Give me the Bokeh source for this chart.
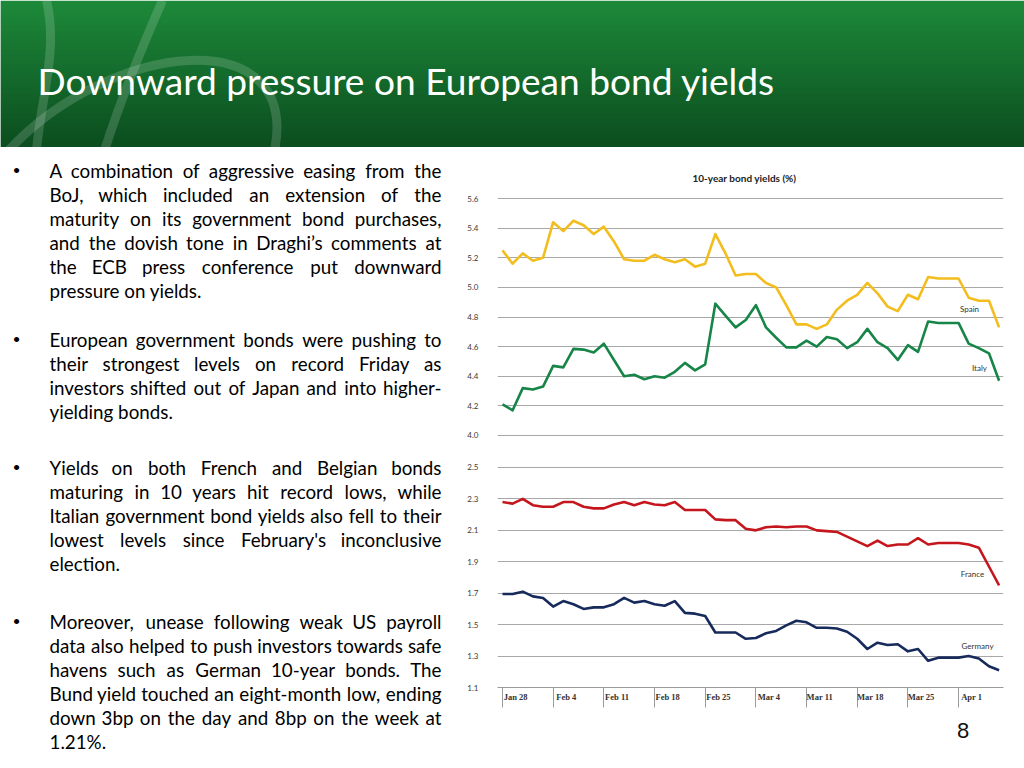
import numpy as np
from bokeh.plotting import figure
from bokeh.layouts import row, column
from bokeh.models import Range1d, FixedTicker, CustomJSTickFormatter, PrintfTickFormatter, Label
from bokeh.core.properties import value
from bokeh.embed import file_html
from bokeh.resources import INLINE

# ---------------- data ----------------
week_labels = ["Jan 28", "Feb 4", "Feb 11", "Feb 18", "Feb 25",
               "Mar 4", "Mar 11", "Mar 18", "Mar 25", "Apr 1"]
days = list(range(50))  # trading days from Jan 28

spain = [5.25, 5.16, 5.23, 5.18, 5.20, 5.44, 5.38, 5.45, 5.42, 5.36,
         5.41, 5.31, 5.19, 5.18, 5.18, 5.22, 5.19, 5.17, 5.19, 5.14,
         5.16, 5.36, 5.23, 5.08, 5.09, 5.09, 5.03, 5.00, 4.88, 4.75,
         4.75, 4.72, 4.75, 4.85, 4.91, 4.95, 5.03, 4.96, 4.87, 4.84,
         4.95, 4.92, 5.07, 5.06, 5.06, 5.06, 4.93, 4.91, 4.91, 4.73]
italy = [4.21, 4.17, 4.32, 4.31, 4.33, 4.47, 4.46, 4.585, 4.58, 4.56,
         4.62, 4.51, 4.40, 4.41, 4.38, 4.40, 4.39, 4.43, 4.49, 4.44,
         4.48, 4.89, 4.81, 4.73, 4.78, 4.88, 4.73, 4.66, 4.595, 4.595,
         4.64, 4.60, 4.665, 4.65, 4.59, 4.63, 4.72, 4.63, 4.59, 4.51,
         4.61, 4.565, 4.77, 4.76, 4.76, 4.76, 4.62, 4.59, 4.555, 4.37]
france = [2.28, 2.27, 2.30, 2.26, 2.25, 2.25, 2.28, 2.28, 2.25, 2.24,
          2.24, 2.265, 2.28, 2.26, 2.28, 2.265, 2.26, 2.28, 2.23, 2.23,
          2.23, 2.17, 2.165, 2.165, 2.11, 2.10, 2.12, 2.125, 2.12, 2.125,
          2.125, 2.10, 2.095, 2.09, 2.06, 2.03, 2.00, 2.035, 2.00, 2.01,
          2.01, 2.05, 2.01, 2.02, 2.02, 2.02, 2.01, 1.99, 1.87, 1.75]
germany = [1.695, 1.695, 1.71, 1.68, 1.67, 1.615, 1.65, 1.63, 1.60, 1.61,
           1.61, 1.63, 1.67, 1.64, 1.65, 1.63, 1.62, 1.65, 1.575, 1.57,
           1.555, 1.45, 1.45, 1.45, 1.41, 1.415, 1.445, 1.46, 1.495, 1.525,
           1.515, 1.48, 1.48, 1.475, 1.455, 1.41, 1.345, 1.385, 1.37, 1.375,
           1.33, 1.345, 1.27, 1.29, 1.29, 1.29, 1.30, 1.285, 1.235, 1.21]

top_ticks = [4.0, 4.2, 4.4, 4.6, 4.8, 5.0, 5.2, 5.4, 5.6]
bottom_ticks = [1.1, 1.3, 1.5, 1.7, 1.9, 2.1, 2.3, 2.5]

title_text = "Downward pressure on European bond yields"
chart_title = "10-year bond yields (%)"
series_names = ["Spain", "Italy", "France", "Germany"]
page_number = "8"

paragraphs = [
    ["A combination of aggressive easing from the",
     "BoJ, which included an extension of the",
     "maturity on its government bond purchases,",
     "and the dovish tone in Draghi\u2019s comments at",
     "the ECB press conference put downward",
     "pressure on yields."],
    ["European government bonds were pushing to",
     "their strongest levels on record Friday as",
     "investors shifted out of Japan and into higher-",
     "yielding bonds."],
    ["Yields on both French and Belgian bonds",
     "maturing in 10 years hit record lows, while",
     "Italian government bond yields also fell to their",
     "lowest levels since February's inconclusive",
     "election."],
    ["Moreover, unease following weak US payroll",
     "data also helped to push investors towards safe",
     "havens such as German 10-year bonds. The",
     "Bund yield touched an eight-month low, ending",
     "down 3bp on the day and 8bp on the week at",
     "1.21%."],
]
para_first_middle = [170, 339, 467, 620.5]
LINE_H = 24.0

# ---------------- styles ----------------
GREEN_TOP = (30, 138, 58)
GREEN_BOT = (12, 78, 32)
C_SPAIN, C_ITALY, C_FRANCE, C_GERMANY = "#f2bd1d", "#178548", "#c4161c", "#172a5c"
BODY_FONT = "Lato"
BODY_SIZE = 18.8
REF_SIZE = 19.8
TEXT_L, TEXT_R = 49, 441

# approximate Calibri advance widths (units / 2048), used to spread justified words
CW = {' ': 463, ',': 511, '-': 627, '.': 517, '\'': 451, '\u2019': 511, '%': 1470,
      'A': 1185, 'B': 1114, 'C': 1092, 'D': 1260, 'E': 1000, 'F': 941, 'G': 1292,
      'H': 1276, 'I': 516, 'J': 653, 'K': 1064, 'L': 861, 'M': 1751, 'N': 1322,
      'O': 1356, 'P': 1058, 'Q': 1378, 'R': 1112, 'S': 941, 'T': 998, 'U': 1314,
      'V': 1162, 'W': 1822, 'X': 1063, 'Y': 998, 'Z': 959,
      'a': 981, 'b': 1076, 'c': 866, 'd': 1076, 'e': 1019, 'f': 625, 'g': 964,
      'h': 1076, 'i': 470, 'j': 490, 'k': 931, 'l': 470, 'm': 1636, 'n': 1076,
      'o': 1080, 'p': 1076, 'q': 1076, 'r': 714, 's': 801, 't': 686, 'u': 1076,
      'v': 925, 'w': 1464, 'x': 887, 'y': 927, 'z': 809}
for d in "0123456789":
    CW[d] = 1038


def tw(s):
    return sum(CW.get(c, 1000) for c in s) / 2048.0 * REF_SIZE


def common(fig):
    fig.outline_line_color = None
    fig.background_fill_color = "white"
    fig.border_fill_color = "white"
    return fig


NOB = dict(min_border_left=0, min_border_right=0, min_border_top=0, min_border_bottom=0)

# ---------------- header ----------------
hdr = figure(width=1024, height=147, x_range=Range1d(0, 1024), y_range=Range1d(147, 0),
             output_backend="svg", toolbar_location=None,
             x_axis_location=None, y_axis_location=None, **NOB)
common(hdr)
hdr.grid.visible = False
rows_y = np.arange(0, 147)
cols = []
for yy in rows_y:
    t = yy / 146.0
    r = int(GREEN_TOP[0] + (GREEN_BOT[0] - GREEN_TOP[0]) * t)
    g = int(GREEN_TOP[1] + (GREEN_BOT[1] - GREEN_TOP[1]) * t)
    b = int(GREEN_TOP[2] + (GREEN_BOT[2] - GREEN_TOP[2]) * t)
    cols.append("#%02x%02x%02x" % (r, g, b))
hdr.quad(left=0, right=1024, top=rows_y, bottom=rows_y + 1.6, fill_color=cols, line_color=None)
# decorative swooshes
hdr.bezier(x0=[46, 162, 8], y0=[0, 0, 150], x1=[36, 104, 274], y1=[150, 150, 150],
           cx0=[58, 140, 110], cy0=[50, 50, 40], cx1=[40, 120, 300], cy1=[100, 100, 20],
           line_color="white", line_alpha=0.16, line_width=9)
hdr.text(x=[37], y=[80], text=[title_text], text_font=value(BODY_FONT),
         text_font_size="37.1px", text_color="white",
         text_align="left", text_baseline="middle")

# ---------------- bullet text ----------------
tf = figure(width=460, height=621, x_range=Range1d(0, 460), y_range=Range1d(768, 147),
            output_backend="svg", toolbar_location=None,
            x_axis_location=None, y_axis_location=None, **NOB)
common(tf)
tf.grid.visible = False

L_x, L_y, L_t = [], [], []
C_x, C_y, C_t = [], [], []
R_x, R_y, R_t = [], [], []
B_x, B_y = [], []
for pi, lines in enumerate(paragraphs):
    y0 = para_first_middle[pi]
    B_x.append(16)
    B_y.append(y0)
    for li, line in enumerate(lines):
        yb = y0 + li * LINE_H
        if li == len(lines) - 1:
            L_x.append(TEXT_L); L_y.append(yb); L_t.append(line)
            continue
        words = line.split(" ")
        wds = [tw(w) for w in words]
        gap = (TEXT_R - TEXT_L - sum(wds)) / (len(words) - 1)
        xc = TEXT_L
        for wi, w in enumerate(words):
            if wi == 0:
                L_x.append(TEXT_L); L_y.append(yb); L_t.append(w)
            elif wi == len(words) - 1:
                R_x.append(TEXT_R); R_y.append(yb); R_t.append(w)
            else:
                C_x.append(xc + wds[wi] / 2); C_y.append(yb); C_t.append(w)
            xc += wds[wi] + gap

for xs, ys, ts, al in [(L_x, L_y, L_t, "left"), (C_x, C_y, C_t, "center"), (R_x, R_y, R_t, "right")]:
    tf.text(x=xs, y=ys, text=ts, text_font=value(BODY_FONT), text_font_size="%.1fpx" % BODY_SIZE,
            text_color="#000000", text_align=al, text_baseline="middle")
tf.text(x=B_x, y=B_y, text=["\u2022"] * len(B_x), text_font=value("Liberation Sans"),
        text_font_size="19px", text_color="#000000", text_align="center", text_baseline="middle")

# ---------------- chart ----------------
XR = (-0.493, 49.434)


def style_y(fig, ticks):
    fig.yaxis.ticker = FixedTicker(ticks=ticks)
    fig.yaxis.formatter = PrintfTickFormatter(format="%.1f")
    fig.yaxis.axis_line_color = None
    fig.yaxis.major_tick_line_color = None
    fig.yaxis.minor_tick_line_color = None
    fig.yaxis.major_tick_out = 0
    fig.yaxis.major_tick_in = 0
    fig.yaxis.minor_tick_out = 0
    fig.yaxis.minor_tick_in = 0
    fig.yaxis.major_label_standoff = 19
    fig.yaxis.major_label_text_font = BODY_FONT
    fig.yaxis.major_label_text_font_size = "8px"
    fig.yaxis.major_label_text_color = "#3a3a3a"
    fig.ygrid.ticker = FixedTicker(ticks=ticks)
    fig.ygrid.grid_line_color = "#a8a8a8"
    fig.ygrid.grid_line_width = 1
    fig.xgrid.visible = False


pt = figure(width=564, height=304, x_range=Range1d(*XR), y_range=Range1d(3.9257, 5.823),
            output_backend="svg", toolbar_location=None, x_axis_location=None,
            min_border_left=37, min_border_right=21, min_border_top=18, min_border_bottom=5)
common(pt)
style_y(pt, top_ticks)
pt.line(days, spain, line_color=C_SPAIN, line_width=2.6, line_join="round")
pt.line(days, italy, line_color=C_ITALY, line_width=2.6, line_join="round")
pt.add_layout(Label(x=23.88, y=5.737, text=chart_title, text_font=BODY_FONT,
                    text_font_style="bold", text_font_size="10px", text_color="#222222",
                    text_align="center", text_baseline="middle"))
pt.add_layout(Label(x=46.08, y=4.857, text=series_names[0], text_font=BODY_FONT,
                    text_font_size="8px", text_color="#333333", text_align="center", text_baseline="middle"))
pt.add_layout(Label(x=47.06, y=4.458, text=series_names[1], text_font=BODY_FONT,
                    text_font_size="8px", text_color="#333333", text_align="center", text_baseline="middle"))

pb = figure(width=564, height=261, x_range=Range1d(*XR), y_range=Range1d(1.1, 2.6018),
            output_backend="svg", toolbar_location=None,
            min_border_left=37, min_border_right=21, min_border_top=0, min_border_bottom=25)
common(pb)
style_y(pb, bottom_ticks)
LABEL_OFF = 1.3
pb.xaxis.ticker = FixedTicker(ticks=[5 * i + LABEL_OFF for i in range(len(week_labels))],
                              minor_ticks=[5 * i for i in range(len(week_labels))])
pb.xaxis.formatter = CustomJSTickFormatter(args=dict(labels=week_labels, off=LABEL_OFF), code="""
const i = Math.round((tick - off) / 5);
return (i >= 0 && i < labels.length) ? labels[i] : "";
""")
pb.xaxis.axis_line_color = "#9a9a9a"
pb.xaxis.axis_line_width = 1
pb.xaxis.major_tick_line_color = None
pb.xaxis.major_tick_out = 0
pb.xaxis.major_tick_in = 0
pb.xaxis.minor_tick_line_color = "#9a9a9a"
pb.xaxis.minor_tick_out = 20
pb.xaxis.minor_tick_in = 0
pb.xaxis.major_label_standoff = -16
pb.xaxis.major_label_text_font = "Liberation Serif"
pb.xaxis.major_label_text_font_style = "bold"
pb.xaxis.major_label_text_font_size = "8.5px"
pb.xaxis.major_label_text_color = "#333333"
pb.line(days, france, line_color=C_FRANCE, line_width=2.6, line_join="round")
pb.line(days, germany, line_color=C_GERMANY, line_width=2.6, line_join="round")
pb.add_layout(Label(x=46.37, y=1.8254, text=series_names[2], text_font=BODY_FONT,
                    text_font_size="8px", text_color="#333333", text_align="center", text_baseline="middle"))
pb.add_layout(Label(x=46.87, y=1.361, text=series_names[3], text_font=BODY_FONT,
                    text_font_size="8px", text_color="#333333", text_align="center", text_baseline="middle"))

pn = figure(width=564, height=56, x_range=Range1d(460, 1024), y_range=Range1d(768, 712),
            output_backend="svg", toolbar_location=None,
            x_axis_location=None, y_axis_location=None, **NOB)
common(pn)
pn.grid.visible = False
pn.text(x=[979], y=[730], text=[page_number], text_font=value("Liberation Sans"), text_font_size="22px",
        text_color="#111111", text_align="center", text_baseline="middle")

layout = column(hdr, row(tf, column(pt, pb, pn)))
open("out.html", "w").write(file_html(layout, INLINE))
